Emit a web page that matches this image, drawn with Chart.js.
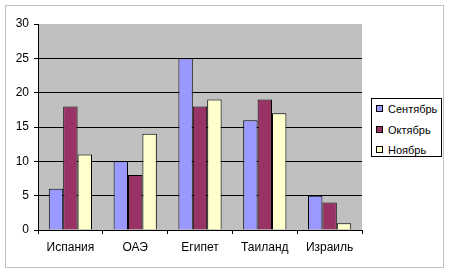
<!DOCTYPE html>
<html>
<head>
<meta charset="utf-8">
<script src="https://cdn.jsdelivr.net/npm/chart.js@4/dist/chart.umd.min.js"></script>
<style>
  body { margin: 0; background: #fff; }
  #wrap { position: relative; width: 449px; height: 272px; }
  #frame { position: absolute; left: 5px; top: 5px; width: 437px; height: 261px; border: 1px solid #c0c0c0; }
  canvas { position: absolute; left: 0; top: 0; }
  #legend {
    position: absolute; left: 371px; top: 98px; width: 69px; height: 57px;
    border: 1px solid #000; background: #fff;
    font: 11px "Liberation Sans", Arial, sans-serif; color: #000;
  }
  #legend .row { position: absolute; left: 4px; height: 14px; line-height: 14px; white-space: nowrap; }
  #legend .sw { display: inline-block; width: 5px; height: 5px; border: 1px solid #000; margin-right: 5px; vertical-align: 1px; }
</style>
</head>
<body>
<div id="wrap">
  <div id="frame"></div>
  <canvas id="chart" width="449" height="272"></canvas>
  <div id="legend"></div>
</div>
<script>
// ── Data ───────────────────────────────────────────────────
const countries = ['Испания', 'ОАЭ', 'Египет', 'Таиланд', 'Израиль'];
const months = ['Сентябрь', 'Октябрь', 'Ноябрь'];
const september = [6, 10, 25, 16, 5];
const october   = [18, 8, 18, 19, 4];
const november  = [11, 14, 19, 17, 1];
const colors = ['#9999ff', '#993366', '#ffffcc'];
const yTicks = [0, 5, 10, 15, 20, 25, 30];

Chart.defaults.color = '#000';
Chart.defaults.font.family = "'Liberation Sans', Arial, sans-serif";
Chart.defaults.font.size = 12;

// gray plot area like old Excel
const plotBg = {
  id: 'plotBg',
  beforeDraw(chart) {
    const { ctx, chartArea: a } = chart;
    ctx.save();
    ctx.fillStyle = '#c0c0c0';
    ctx.fillRect(a.left, a.top, a.right - a.left, a.bottom - a.top);
    ctx.restore();
  }
};

const series = [september, october, november];

new Chart(document.getElementById('chart').getContext('2d'), {
  type: 'bar',
  data: {
    labels: countries,
    datasets: series.map((d, i) => ({
      label: months[i],
      data: d,
      backgroundColor: colors[i],
      borderColor: '#000',
      borderWidth: 1,
      borderSkipped: 'bottom',
      barPercentage: 1,
      categoryPercentage: 0.667
    }))
  },
  options: {
    responsive: false,
    animation: false,
    layout: { padding: { top: 24, right: 87, bottom: 0, left: 0 } },
    plugins: { legend: { display: false }, tooltip: { enabled: false } },
    scales: {
      x: {
        afterFit(s) { s.height = 42; },
        grid: { offset: true, drawOnChartArea: false, tickLength: 4, color: '#000' },
        border: { color: '#000' },
        ticks: { padding: 6, maxRotation: 0 }
      },
      y: {
        min: 0, max: 30,
        afterFit(s) { s.width = 38; },
        afterBuildTicks(s) { s.ticks = yTicks.map(v => ({ value: v })); },
        grid: {
          color: c => (c.tick && c.tick.value === 30) ? 'rgba(0,0,0,0)' : '#000',
          tickColor: '#000',
          tickLength: 4
        },
        border: { color: '#000' },
        ticks: { padding: 5 }
      }
    }
  },
  plugins: [plotBg]
});

// ── Legend box ─────────────────────────────────────────────
const legend = document.getElementById('legend');
months.forEach((m, i) => {
  const row = document.createElement('div');
  row.className = 'row';
  row.style.top = (3 + i * 20.5) + 'px';
  row.innerHTML = `<span class="sw" style="background:${colors[i]}"></span>${m}`;
  legend.appendChild(row);
});
</script>
</body>
</html>
